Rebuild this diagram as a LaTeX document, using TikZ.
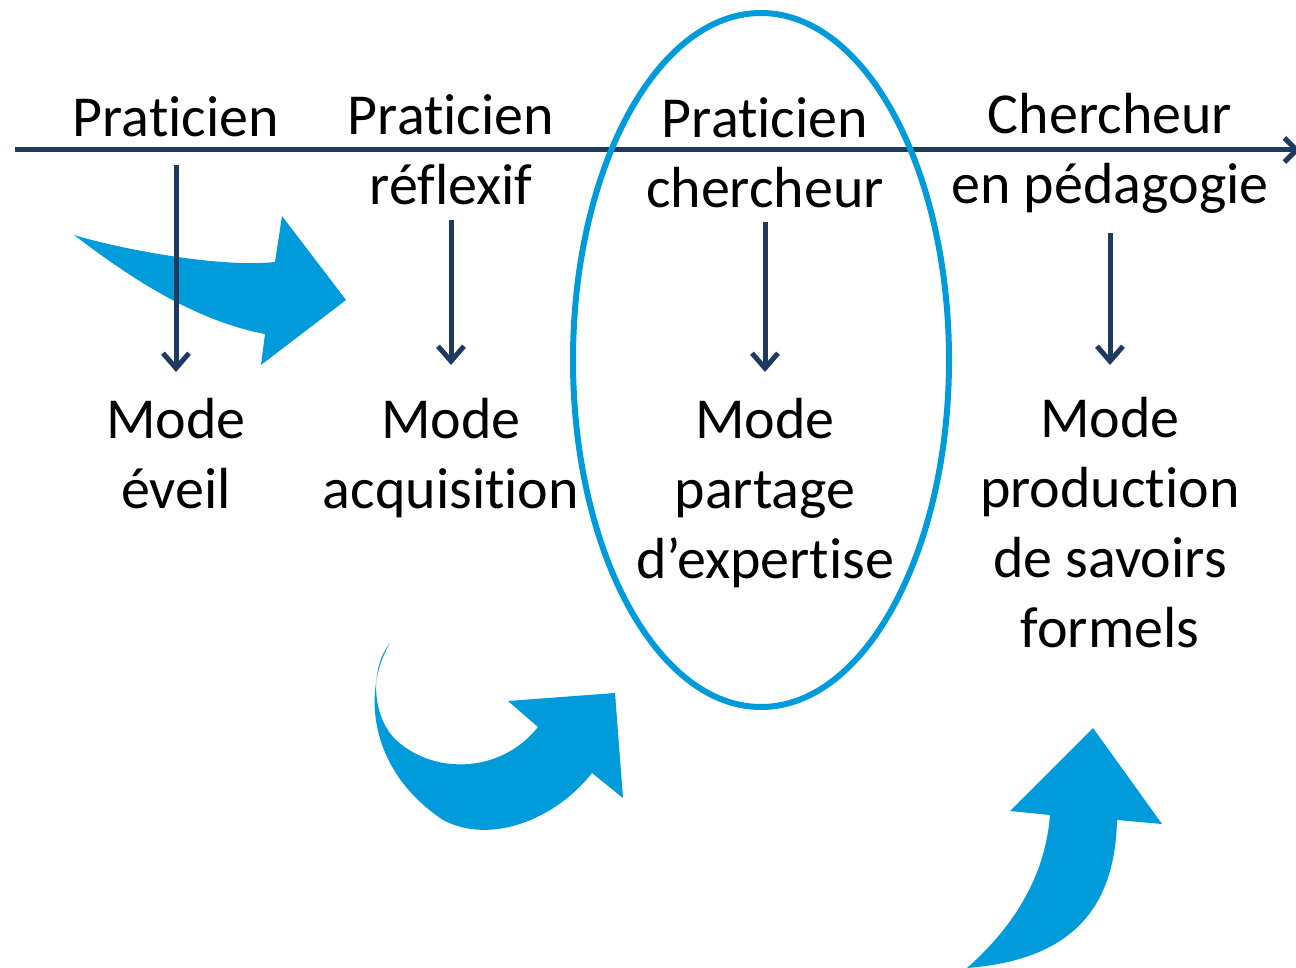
\documentclass[tikz,border=0pt]{standalone}
\usepackage{fontspec}
\setmainfont{Carlito}[Ligatures=NoCommon]
\usetikzlibrary{arrows.meta}
\definecolor{navy}{RGB}{31,58,96}
\definecolor{sky}{RGB}{0,155,218}
\begin{document}
\begin{tikzpicture}[x=1pt,y=-1pt,
  lbl/.style={anchor=base, align=center, font=\fontsize{58}{70}\selectfont, inner sep=0pt},
  vflow/.style={draw=navy, line width=5pt, -{Straight Barb[length=15pt,width=26pt]}},
  bigarrow/.style={fill=sky}]
\useasboundingbox (0,0) rectangle (1296,968);
\clip (0,0) rectangle (1296,968);

% big blue arrows
\fill[bigarrow] (74,235) .. controls (120,249) and (220,268) .. (275,262)
  -- (282,216) -- (346,300) -- (261,365) -- (265,334)
  .. controls (190,320) and (120,270) .. (74,235) -- cycle;
\fill[bigarrow] (390,643) .. controls (362,690) and (368,770) .. (443,820)
  .. controls (490,845) and (555,820) .. (592,773)
  -- (623,798) -- (615,693) -- (508,701) -- (538,727)
  .. controls (500,775) and (430,775) .. (393,737)
  .. controls (370,710) and (372,665) .. (390,643) -- cycle;
\fill[bigarrow] (967,968) .. controls (1010,930) and (1045,880) .. (1050,815)
  -- (1010,811) -- (1093,728) -- (1162,824) -- (1117,820)
  .. controls (1115,910) and (1070,960) .. (967,968) -- cycle;

% axis
\coordinate (ax0) at (15,150);
\coordinate (ax1) at (1300,150);
\draw[navy, line width=5pt, -{Straight Barb[length=12pt,width=24pt]}] (ax0) -- (ax1);

% top labels (anchor = baseline of last line)
\node[lbl] (t1) at (176,137) {Praticien};
\node[lbl] (t2) at (451,205) {Praticien\\réflexif};
\node[lbl] (t3) at (765,208) {Praticien\\chercheur};
\node[lbl] (t4) at (1110,204) {Chercheur\\en pédagogie};

% mode labels
\node[lbl] (m1) at (176,508) {Mode\\éveil};
\node[lbl] (m2) at (451,508) {Mode\\acquisition};
\node[lbl] (m3) at (765,578) {Mode\\partage\\d’expertise};
\node[lbl] (m4) at (1110,647) {Mode\\production\\de savoirs\\formels};

% vertical arrows
\coordinate (s1) at (176,165); \coordinate (e1) at (176,372);
\coordinate (s2) at (451,220); \coordinate (e2) at (451,365);
\coordinate (s3) at (765,222); \coordinate (e3) at (765,372);
\coordinate (s4) at (1110,233); \coordinate (e4) at (1110,365);
\draw[vflow] (s1) -- (e1);
\draw[vflow] (s2) -- (e2);
\draw[vflow] (s3) -- (e3);
\draw[vflow] (s4) -- (e4);

% ellipse
\coordinate (ell) at (761,360);
\draw[sky, line width=6pt] (ell) ellipse [x radius=188pt, y radius=347pt];
\end{tikzpicture}
\end{document}
